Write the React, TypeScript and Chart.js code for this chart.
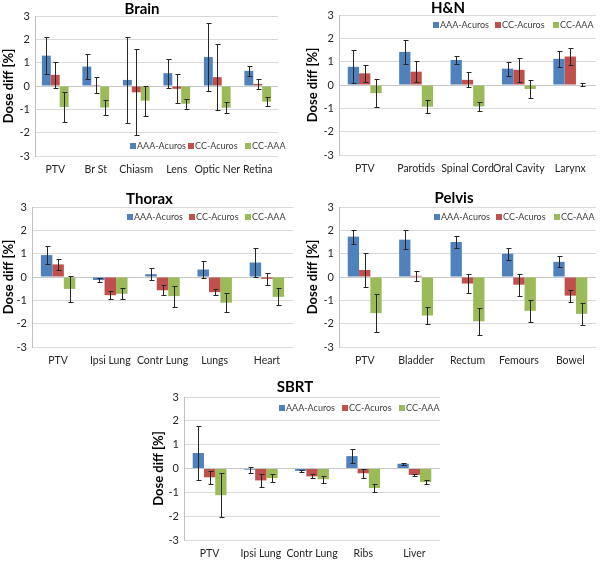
import React, { useEffect, useRef } from "react";
import { Chart, registerables } from "chart.js";

Chart.register(...registerables);

// ---------- shared ----------
const seriesLabels = ["AAA-Acuros", "CC-Acuros", "CC-AAA"];
const seriesColors = ["#4F81BD", "#C0504D", "#9BBB59"];
const yMin = -3;
const yMax = 3;
const yStep = 1;
const yAxisTitle = "Dose diff [%]";

// ---------- Brain ----------
const brainCategories = ["PTV", "Br St", "Chiasm", "Lens", "Optic Ner", "Retina"];
const brainAAA = [1.3, 0.83, 0.26, 0.55, 1.24, 0.65];
const brainAAAErr = [0.8, 0.55, 1.84, 0.62, 1.44, 0.2];
const brainCCAcuros = [0.48, 0.04, -0.27, -0.12, 0.38, 0.09];
const brainCCAcurosErr = [0.55, 0.34, 1.85, 0.62, 1.42, 0.2];
const brainCCAAA = [-0.9, -0.92, -0.63, -0.76, -0.93, -0.67];
const brainCCAAAErr = [0.66, 0.32, 0.65, 0.22, 0.24, 0.2];

// ---------- H&N ----------
const hnCategories = ["PTV", "Parotids", "Spinal Cord", "Oral Cavity", "Larynx"];
const hnAAA = [0.78, 1.42, 1.07, 0.7, 1.12];
const hnAAAErr = [0.7, 0.5, 0.18, 0.3, 0.33];
const hnCCAcuros = [0.5, 0.57, 0.22, 0.65, 1.22];
const hnCCAcurosErr = [0.37, 0.45, 0.32, 0.5, 0.38];
const hnCCAAA = [-0.35, -0.93, -0.92, -0.17, 0.02];
const hnCCAAAErr = [0.6, 0.28, 0.2, 0.38, 0.06];

// ---------- Thorax ----------
const thoraxCategories = ["PTV", "Ipsi Lung", "Contr Lung", "Lungs", "Heart"];
const thoraxAAA = [0.94, -0.13, 0.12, 0.32, 0.62];
const thoraxAAAErr = [0.4, 0.08, 0.25, 0.37, 0.63];
const thoraxCCAcuros = [0.54, -0.78, -0.57, -0.65, -0.08];
const thoraxCCAcurosErr = [0.22, 0.17, 0.22, 0.13, 0.27];
const thoraxCCAAA = [-0.51, -0.72, -0.82, -1.1, -0.85];
const thoraxCCAAAErr = [0.55, 0.24, 0.45, 0.4, 0.37];

// ---------- Pelvis ----------
const pelvisCategories = ["PTV", "Bladder", "Rectum", "Femours", "Bowel"];
const pelvisAAA = [1.73, 1.6, 1.5, 1.0, 0.65];
const pelvisAAAErr = [0.3, 0.42, 0.27, 0.25, 0.23];
const pelvisCCAcuros = [0.3, 0.05, -0.28, -0.33, -0.8];
const pelvisCCAcurosErr = [0.73, 0.21, 0.4, 0.47, 0.25];
const pelvisCCAAA = [-1.55, -1.65, -1.9, -1.45, -1.58];
const pelvisCCAAAErr = [0.82, 0.37, 0.58, 0.48, 0.48];

// ---------- SBRT ----------
const sbrtCategories = ["PTV", "Ipsi Lung", "Contr Lung", "Ribs", "Liver"];
const sbrtAAA = [0.65, -0.05, -0.1, 0.52, 0.2];
const sbrtAAAErr = [1.15, 0.12, 0.03, 0.3, 0.05];
const sbrtCCAcuros = [-0.37, -0.5, -0.33, -0.2, -0.27];
const sbrtCCAcurosErr = [0.28, 0.27, 0.08, 0.2, 0.06];
const sbrtCCAAA = [-1.12, -0.4, -0.45, -0.82, -0.57];
const sbrtCCAAAErr = [0.92, 0.18, 0.15, 0.17, 0.07];

const FONT = "Lato, 'Open Sans', 'Liberation Sans', sans-serif";

const errorBarPlugin = {
  id: "errorBars",
  afterDatasetsDraw(chart: any) {
    const { ctx } = chart;
    const yScale = chart.scales.y;
    ctx.save();
    ctx.strokeStyle = "#262626";
    ctx.lineWidth = 1;
    chart.data.datasets.forEach((ds: any, i: number) => {
      const meta = chart.getDatasetMeta(i);
      meta.data.forEach((bar: any, j: number) => {
        const v = ds.data[j];
        const e = ds.errors[j];
        const x = Math.round(bar.x) + 0.5;
        const y1 = Math.round(yScale.getPixelForValue(v + e)) + 0.5;
        const y2 = Math.round(yScale.getPixelForValue(v - e)) + 0.5;
        ctx.beginPath();
        ctx.moveTo(x, y1);
        ctx.lineTo(x, y2);
        ctx.moveTo(x - 2, y1);
        ctx.lineTo(x + 3, y1);
        ctx.moveTo(x - 2, y2);
        ctx.lineTo(x + 3, y2);
        ctx.stroke();
      });
    });
    ctx.restore();
  },
};

const decorPlugin = {
  id: "panelDecor",
  afterDraw(chart: any, _args: any, opts: any) {
    const { ctx, chartArea } = chart;
    ctx.save();
    // title
    ctx.fillStyle = "#000";
    ctx.font = `bold 15px ${FONT}`;
    ctx.textAlign = "center";
    ctx.textBaseline = "middle";
    ctx.fillText(opts.title, chartArea.right / 2 + opts.titleDx, opts.titleY);
    // legend
    ctx.font = `9px ${FONT}`;
    ctx.textAlign = "left";
    chart.data.datasets.forEach((ds: any, i: number) => {
      const x = opts.legendX + opts.legendOffsets[i];
      const y = opts.legendY;
      ctx.fillStyle = ds.backgroundColor;
      ctx.fillRect(x - 3, y - 3, 6, 6);
      ctx.fillStyle = "#404040";
      ctx.fillText(ds.label, x + 4, y + 0.5);
    });
    ctx.restore();
  },
};

type PanelProps = {
  title: string;
  categories: string[];
  values: number[][];
  errors: number[][];
  left: number;
  top: number;
  width: number;
  height: number;
  pad: { left: number; top: number; right: number; bottom: number };
  yWidth: number;
  xHeight: number;
  titleY: number;
  titleDx: number;
  legendX: number;
  legendY: number;
  legendOffsets: number[];
};

function Panel(p: PanelProps) {
  const ref = useRef<HTMLCanvasElement | null>(null);
  useEffect(() => {
    if (!ref.current) return;
    const chart = new Chart(ref.current, {
      type: "bar",
      data: {
        labels: p.categories,
        datasets: seriesLabels.map((label, i) => ({
          label,
          data: p.values[i],
          errors: p.errors[i],
          backgroundColor: seriesColors[i],
          borderWidth: 0,
          categoryPercentage: 0.66,
          barPercentage: 1.0,
        })) as any,
      },
      options: {
        responsive: false,
        animation: false,
        devicePixelRatio: 1,
        events: [],
        layout: { padding: p.pad },
        plugins: {
          legend: { display: false },
          title: { display: false },
          tooltip: { enabled: false },
          panelDecor: {
            title: p.title,
            titleY: p.titleY,
            titleDx: p.titleDx,
            legendX: p.legendX,
            legendY: p.legendY,
            legendOffsets: p.legendOffsets,
          },
        } as any,
        scales: {
          x: {
            grid: { display: false, drawTicks: false },
            border: { display: false },
            ticks: {
              color: "#262626",
              font: { family: FONT, size: 10.5 },
              padding: 7,
              maxRotation: 0,
              autoSkip: false,
            },
            afterFit: (s: any) => {
              s.height = p.xHeight;
            },
          },
          y: {
            min: yMin,
            max: yMax,
            ticks: {
              stepSize: yStep,
              color: "#262626",
              font: { family: FONT, size: 11 },
              padding: 5,
            },
            grid: {
              drawTicks: false,
              color: (c: any) => (c.tick && c.tick.value === 0 ? "#c8c8c8" : "#d9d9d9"),
            },
            border: { color: "#bfbfbf" },
            title: {
              display: true,
              text: yAxisTitle,
              color: "#000",
              font: { family: FONT, size: 13, weight: "bold" },
              padding: { top: 1, bottom: 0 },
            },
            afterFit: (s: any) => {
              s.width = p.yWidth;
            },
          },
        },
      },
      plugins: [errorBarPlugin, decorPlugin],
    });
    return () => chart.destroy();
  }, []);
  return (
    <canvas
      ref={ref}
      width={p.width}
      height={p.height}
      style={{ position: "absolute", left: p.left, top: p.top, width: p.width, height: p.height }}
    />
  );
}

export default function App() {
  return (
    <div style={{ position: "absolute", left: 0, top: 0, width: 600, height: 561, background: "#fff" }}>
      <Panel
        title="Brain"
        categories={brainCategories}
        values={[brainAAA, brainCCAcuros, brainCCAAA]}
        errors={[brainAAAErr, brainCCAcurosErr, brainCCAAAErr]}
        left={0}
        top={0}
        width={300}
        height={185}
        pad={{ left: 0, top: 16, right: 22, bottom: 5 }}
        yWidth={35}
        xHeight={24}
        titleY={9}
        titleDx={3}
        legendX={133}
        legendY={146}
        legendOffsets={[0, 58, 115]}
      />
      <Panel
        title="H&N"
        categories={hnCategories}
        values={[hnAAA, hnCCAcuros, hnCCAAA]}
        errors={[hnAAAErr, hnCCAcurosErr, hnCCAAAErr]}
        left={300}
        top={0}
        width={300}
        height={185}
        pad={{ left: 4, top: 15, right: 4, bottom: 6 }}
        yWidth={35}
        xHeight={24}
        titleY={8}
        titleDx={0}
        legendX={136}
        legendY={25}
        legendOffsets={[0, 62, 120]}
      />
      <Panel
        title="Thorax"
        categories={thoraxCategories}
        values={[thoraxAAA, thoraxCCAcuros, thoraxCCAAA]}
        errors={[thoraxAAAErr, thoraxCCAcurosErr, thoraxCCAAAErr]}
        left={0}
        top={185}
        width={300}
        height={185}
        pad={{ left: 0, top: 22, right: 7, bottom: 1 }}
        yWidth={32}
        xHeight={22}
        titleY={14}
        titleDx={3}
        legendX={130}
        legendY={32}
        legendOffsets={[0, 62, 118]}
      />
      <Panel
        title="Pelvis"
        categories={pelvisCategories}
        values={[pelvisAAA, pelvisCCAcuros, pelvisCCAAA]}
        errors={[pelvisAAAErr, pelvisCCAcurosErr, pelvisCCAAAErr]}
        left={300}
        top={185}
        width={300}
        height={185}
        pad={{ left: 4, top: 22, right: 4, bottom: 1 }}
        yWidth={35}
        xHeight={22}
        titleY={13}
        titleDx={6}
        legendX={137}
        legendY={32}
        legendOffsets={[0, 62, 120]}
      />
      <Panel
        title="SBRT"
        categories={sbrtCategories}
        values={[sbrtAAA, sbrtCCAcuros, sbrtCCAAA]}
        errors={[sbrtAAAErr, sbrtCCAcurosErr, sbrtCCAAAErr]}
        left={150}
        top={370}
        width={300}
        height={191}
        pad={{ left: 0, top: 27, right: 10, bottom: 0 }}
        yWidth={34}
        xHeight={21}
        titleY={17}
        titleDx={0}
        legendX={132}
        legendY={38}
        legendOffsets={[0, 63, 120]}
      />
    </div>
  );
}
